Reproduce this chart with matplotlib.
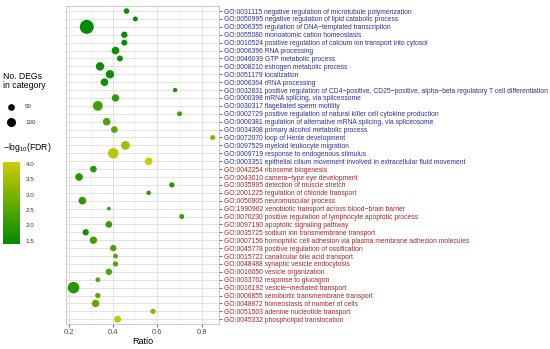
import matplotlib
matplotlib.use('Agg')
import matplotlib.pyplot as plt
from matplotlib.colors import LinearSegmentedColormap, Normalize

plt.rcParams['font.family'] = ['Liberation Sans', 'DejaVu Sans']
plt.rcParams['mathtext.fontset'] = 'custom'
plt.rcParams['mathtext.rm'] = 'Liberation Sans'
plt.rcParams['mathtext.default'] = 'regular'

# GO terms, top to bottom (first 20 up-regulated, last 20 down-regulated)
terms = [
    'GO:0031115 negative regulation of microtubule polymerization',
    'GO:0050995 negative regulation of lipid catabolic process',
    'GO:0006355 regulation of DNA\u2212templated transcription',
    'GO:0055080 monoatomic cation homeostasis',
    'GO:0010524 positive regulation of calcium ion transport into cytosol',
    'GO:0006396 RNA processing',
    'GO:0046039 GTP metabolic process',
    'GO:0008210 estrogen metabolic process',
    'GO:0051179 localization',
    'GO:0006364 rRNA processing',
    'GO:0032831 positive regulation of CD4\u2212positive, CD25\u2212positive, alpha\u2212beta regulatory T cell differentiation',
    'GO:0000398 mRNA splicing, via spliceosome',
    'GO:0030317 flagellated sperm motility',
    'GO:0002729 positive regulation of natural killer cell cytokine production',
    'GO:0000381 regulation of alternative mRNA splicing, via spliceosome',
    'GO:0034308 primary alcohol metabolic process',
    'GO:0072070 loop of Henle development',
    'GO:0097529 myeloid leukocyte migration',
    'GO:0009719 response to endogenous stimulus',
    'GO:0003351 epithelial cilium movement involved in extracellular fluid movement',
    'GO:0042254 ribosome biogenesis',
    'GO:0043010 camera\u2212type eye development',
    'GO:0035995 detection of muscle stretch',
    'GO:2001225 regulation of chloride transport',
    'GO:0050905 neuromuscular process',
    'GO:1990962 xenobiotic transport across blood\u2212brain barrier',
    'GO:0070230 positive regulation of lymphocyte apoptotic process',
    'GO:0097190 apoptotic signaling pathway',
    'GO:0035725 sodium ion transmembrane transport',
    'GO:0007156 homophilic cell adhesion via plasma membrane adhesion molecules',
    'GO:0045778 positive regulation of ossification',
    'GO:0015722 canalicular bile acid transport',
    'GO:0048488 synaptic vesicle endocytosis',
    'GO:0016050 vesicle organization',
    'GO:0033762 response to glucagon',
    'GO:0016192 vesicle\u2212mediated transport',
    'GO:0006855 xenobiotic transmembrane transport',
    'GO:0048872 homeostasis of number of cells',
    'GO:0051503 adenine nucleotide transport',
    'GO:0045332 phospholipid translocation',
]
direction = ['up'] * 20 + ['down'] * 20

ratio = [0.46, 0.50, 0.28, 0.45, 0.45, 0.41, 0.43, 0.34, 0.385, 0.36,
         0.68, 0.41, 0.33, 0.70, 0.37, 0.405, 0.85, 0.455, 0.40, 0.56,
         0.31, 0.245, 0.665, 0.56, 0.26, 0.38, 0.71, 0.38, 0.275, 0.31,
         0.40, 0.41, 0.41, 0.38, 0.33, 0.22, 0.33, 0.32, 0.58, 0.42]
n_degs = [31, 23, 256, 44, 38, 69, 38, 86, 86, 69,
          17, 64, 119, 22, 69, 50, 22, 94, 140, 69,
          50, 69, 28, 17, 69, 7, 22, 50, 44, 64,
          44, 20, 28, 44, 20, 171, 28, 64, 28, 53]
neglog_fdr = [1.45, 1.45, 1.40, 1.45, 1.45, 1.50, 1.50, 1.50, 1.55, 1.60,
              1.80, 2.00, 2.20, 2.20, 2.40, 2.50, 3.00, 3.50, 3.80, 4.05,
              1.90, 1.90, 2.00, 1.95, 1.95, 2.00, 2.10, 2.10, 1.60, 2.20,
              2.30, 2.40, 2.50, 2.40, 2.50, 1.90, 2.60, 2.60, 3.20, 3.80]
legend_sizes = [50, 100]


def marker_area(n):
    # point area grows linearly with the number of DEGs
    return 4 + 0.38 * n


cmap = LinearSegmentedColormap.from_list('gy', ['#008B00', '#CDCD00'])
norm = Normalize(vmin=1.39, vmax=4.08)

fig = plt.figure(figsize=(5.5, 3.49), dpi=100)
ax = fig.add_axes([66 / 550, 1 - 324 / 349, 153.3 / 550, 317.7 / 349])

ypos = [len(terms) - i for i in range(len(terms))]
sc = ax.scatter(ratio, ypos, s=[marker_area(n) for n in n_degs], c=neglog_fdr,
                cmap=cmap, norm=norm, linewidths=0, zorder=3)

ax.set_xlim(0.186, 0.88)
ax.set_ylim(0.4, len(terms) + 0.6)
ax.set_xticks([0.2, 0.4, 0.6, 0.8])
ax.set_xticklabels(['0.2', '0.4', '0.6', '0.8'])
ax.set_xticks([0.3, 0.5, 0.7], minor=True)
ax.set_yticks(ypos)
ax.set_yticklabels(terms)
ax.yaxis.tick_right()
ax.tick_params(axis='y', length=2, width=0.5, color='#333333', pad=1.5, labelsize=4.85)
ax.tick_params(axis='x', which='major', length=2, width=0.5, color='#333333', pad=1.5,
               labelsize=5.5, labelcolor='#4d4d4d')
ax.tick_params(axis='x', which='minor', length=0)
for lbl, d in zip(ax.get_yticklabels(), direction):
    lbl.set_color('#2e3192' if d == 'up' else '#9e2a2b')

ax.grid(True, which='major', color='#dddddd', linewidth=0.6, zorder=0)
ax.grid(True, which='minor', axis='x', color='#efefef', linewidth=0.4, zorder=0)
ax.set_axisbelow(True)
for sp in ax.spines.values():
    sp.set_color('#c0c0c0')
    sp.set_linewidth(0.6)
ax.set_xlabel('Ratio', fontsize=6.5, labelpad=1)

# legends on the left, placed in pixel coordinates
lax = fig.add_axes([0, 0, 1, 1])
lax.set_xlim(0, 550)
lax.set_ylim(349, 0)
lax.axis('off')
lax.text(3, 81, 'No. DEGs\nin category', fontsize=6.2, va='center', ha='left', linespacing=1.1)
for n, y in zip(legend_sizes, [107, 122]):
    lax.scatter([11], [y], s=marker_area(n), color='black', linewidths=0)
    lax.text(25, y, str(n), fontsize=4.5, va='center', ha='left', color='#333333')
lax.text(3, 147, '\u2212log$_{10}$(FDR)', fontsize=6.2, va='center', ha='left')

cax = fig.add_axes([3.3 / 550, 1 - 244 / 349, 16.7 / 550, 82.3 / 349])
cb = fig.colorbar(sc, cax=cax)
cb.outline.set_visible(False)
cb.set_ticks([1.5, 2.0, 2.5, 3.0, 3.5, 4.0])
cb.ax.tick_params(length=2, width=0.5, color='white', labelsize=4.5, labelcolor='#333333', pad=2)

fig.savefig('out.png', dpi=100)
